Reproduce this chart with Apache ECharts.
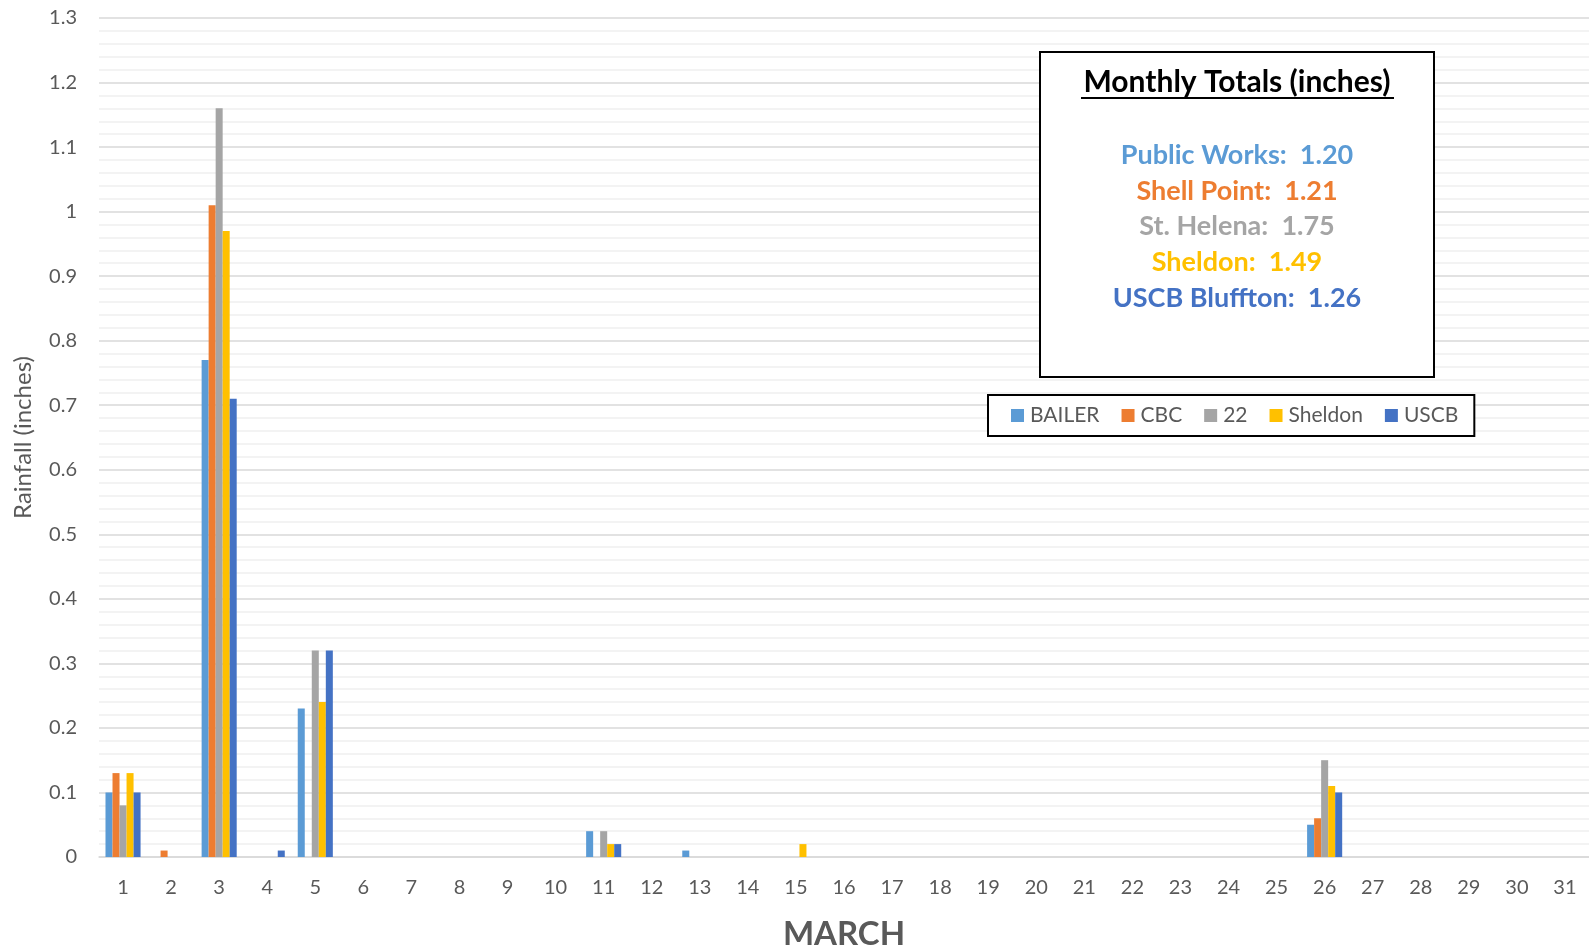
<!DOCTYPE html>
<html>
<head>
<meta charset="utf-8">
<title>March Rainfall</title>
<script src="https://cdn.jsdelivr.net/npm/echarts@6/dist/echarts.min.js"></script>
<style>
  html, body { margin: 0; padding: 0; background: #fff; }
  #main { width: 1589px; height: 951px; }
</style>
</head>
<body>
<div id="main"></div>
<script>
// days of March
var days = [];
for (var d = 1; d <= 31; d++) days.push(String(d));

// daily rainfall (inches), one entry per day
var bailer  = [0.10, 0, 0.77, 0, 0.23, 0, 0, 0, 0, 0, 0.04, 0, 0.01, 0, 0, 0, 0, 0, 0, 0, 0, 0, 0, 0, 0, 0.05, 0, 0, 0, 0, 0];
var cbc     = [0.13, 0.01, 1.01, 0, 0, 0, 0, 0, 0, 0, 0, 0, 0, 0, 0, 0, 0, 0, 0, 0, 0, 0, 0, 0, 0, 0.06, 0, 0, 0, 0, 0];
var st22    = [0.08, 0, 1.16, 0, 0.32, 0, 0, 0, 0, 0, 0.04, 0, 0, 0, 0, 0, 0, 0, 0, 0, 0, 0, 0, 0, 0, 0.15, 0, 0, 0, 0, 0];
var sheldon = [0.13, 0, 0.97, 0, 0.24, 0, 0, 0, 0, 0, 0.02, 0, 0, 0, 0.02, 0, 0, 0, 0, 0, 0, 0, 0, 0, 0, 0.11, 0, 0, 0, 0, 0];
var uscb    = [0.10, 0, 0.71, 0.01, 0.32, 0, 0, 0, 0, 0, 0.02, 0, 0, 0, 0, 0, 0, 0, 0, 0, 0, 0, 0, 0, 0, 0.10, 0, 0, 0, 0, 0];

var seriesNames = ['BAILER', 'CBC', '22', 'Sheldon', 'USCB'];
var seriesData = [bailer, cbc, st22, sheldon, uscb];
var colors = ['#5B9BD5', '#ED7D31', '#A5A5A5', '#FFC000', '#4472C4'];

// monthly totals box
var totalNames = ['Public Works', 'Shell Point', 'St. Helena', 'Sheldon', 'USCB Bluffton'];
var totalValues = ['1.20', '1.21', '1.75', '1.49', '1.26'];

var font = 'Lato, "Open Sans", "Liberation Sans", sans-serif';
var grey = '#595959';

var myChart = echarts.init(document.getElementById('main'));

var series = seriesNames.map(function (name, i) {
    return {
        name: name,
        type: 'bar',
        data: seriesData[i],
        barGap: '0%',
        barCategoryGap: '27%',
        itemStyle: { color: colors[i] }
    };
});

var graphics = [{
    type: 'rect',
    shape: { x: 1040, y: 52, width: 394, height: 325 },
    style: { fill: '#fff', stroke: '#000', lineWidth: 2 },
    z: 10
}, {
    type: 'text',
    x: 1237, y: 82,
    style: {
        text: 'Monthly Totals (inches)',
        fill: '#000', font: 'bold 30px ' + font,
        align: 'center', verticalAlign: 'middle'
    },
    z: 11
}, {
    type: 'line',
    shape: { x1: 1081, y1: 98, x2: 1394, y2: 98 },
    style: { stroke: '#000', lineWidth: 2 },
    z: 11
}];

totalNames.forEach(function (n, i) {
    graphics.push({
        type: 'text',
        x: 1237, y: 155 + i * 35.8,
        style: {
            text: n + ':  ' + totalValues[i],
            fill: colors[i], font: 'bold 27px ' + font,
            align: 'center', verticalAlign: 'middle'
        },
        z: 11
    });
});

var option = {
    animation: false,
    color: colors,
    textStyle: { fontFamily: font },
    grid: { left: 99, right: 0, top: 18, bottom: 94, containLabel: false, outerBoundsMode: 'none' },
    legend: {
        data: seriesNames,
        left: 988, top: 395,
        padding: [10, 16, 10, 23],
        itemWidth: 13, itemHeight: 13,
        itemGap: 22,
        icon: 'rect',
        borderColor: '#000', borderWidth: 2,
        backgroundColor: '#fff',
        textStyle: { color: grey, fontSize: 21, fontFamily: font, padding: [0, 0, 0, 1] }
    },
    xAxis: {
        type: 'category',
        data: days,
        name: 'MARCH',
        nameLocation: 'middle',
        nameGap: 61,
        nameTextStyle: { color: grey, fontSize: 33, fontWeight: 'bold', fontFamily: font },
        axisLine: { lineStyle: { color: '#d9d9d9', width: 1.5 } },
        axisTick: { show: false },
        axisLabel: { color: grey, fontSize: 20, margin: 21, fontFamily: font }
    },
    yAxis: {
        type: 'value',
        min: 0, max: 1.3, interval: 0.1,
        name: 'Rainfall (inches)',
        nameLocation: 'middle',
        nameGap: 64,
        nameRotate: 90,
        nameTextStyle: { color: grey, fontSize: 24, fontFamily: font },
        axisLine: { show: false },
        axisTick: { show: false },
        axisLabel: { color: grey, fontSize: 20, margin: 22, fontFamily: font },
        splitLine: { lineStyle: { color: '#d9d9d9', width: 1.5 } },
        minorTick: { show: false, splitNumber: 5 },
        minorSplitLine: { show: true, lineStyle: { color: '#f0f0f0', width: 1.5 } }
    },
    graphic: graphics,
    series: series
};

myChart.setOption(option);
</script>
</body>
</html>
